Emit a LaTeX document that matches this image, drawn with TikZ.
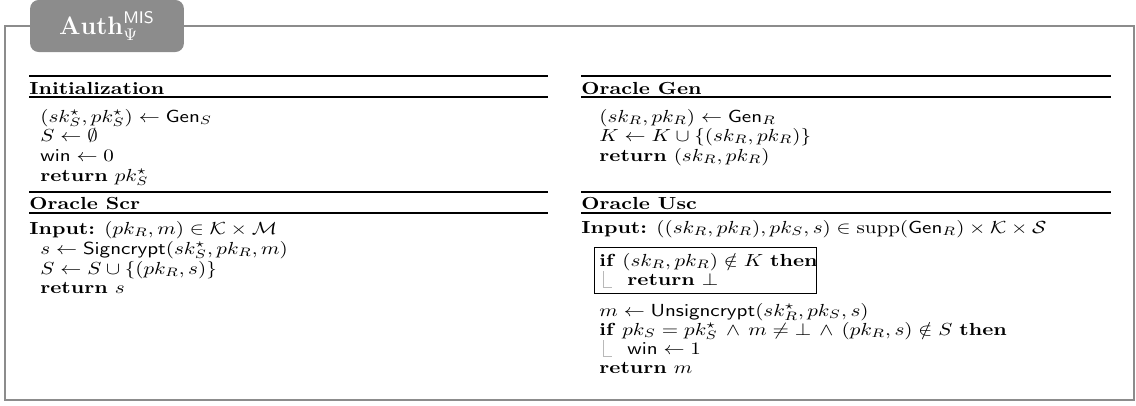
\documentclass[tikz,border=0pt]{standalone}
\usepackage{amsmath,amssymb}
\usepackage{tikz}
\definecolor{framegray}{RGB}{140,140,140}
\definecolor{markgray}{RGB}{185,185,185}
\tikzset{every picture/.style={x=0.475pt,y=-0.475pt}}
\tikzset{code/.style={anchor=base west, inner sep=0pt, yscale=0.83}}
\tikzset{toprule/.style={line width=0.9pt}, midrule/.style={line width=0.5pt}}
\tikzset{tab/.style={fill=framegray, rounded corners=4pt, text=white, minimum width=73pt, minimum height=24.7pt, inner sep=0pt}}

\begin{document}
\begin{tikzpicture}
\useasboundingbox (0,0) rectangle (1136,405);
\draw[framegray, line width=1.4pt] (5,26) rectangle (1134,400);
\node[tab] (tab) at (107,26) {\large $\mathbf{Auth}^{\mathsf{MIS}}_{\Psi}$};
% rules of the four blocks
\foreach \xa/\xb in {29/548, 581/1111} {
\foreach \ya/\yb in {76/97, 192/213} {
\draw[toprule] (\xa,\ya) -- (\xb,\ya);
\draw[midrule] (\xa,\yb) -- (\xb,\yb);
}
}
% Initialization
\node[code] (init) at (29,94) {\textbf{Initialization}};
\node[code] (init1) at (40,122) {$(sk^{\star}_{S}, pk^{\star}_{S}) \leftarrow \mathsf{Gen}_S$};
\node[code] (init2) at (40,141) {$S \leftarrow \emptyset$};
\node[code] (init3) at (40,161) {$\mathsf{win} \leftarrow 0$};
\node[code] (init4) at (40,181) {\textbf{return} $pk^{\star}_{S}$};
% Oracle Gen
\node[code] (gen) at (581,94) {\textbf{Oracle Gen}};
\node[code] (gen1) at (599,122) {$(sk_R, pk_R) \leftarrow \mathsf{Gen}_R$};
\node[code] (gen2) at (599,141) {$K \leftarrow K \cup \{(sk_R, pk_R)\}$};
\node[code] (gen3) at (599,161) {\textbf{return} $(sk_R, pk_R)$};
% Oracle Scr
\node[code] (scr) at (29,209) {\textbf{Oracle Scr}};
\node[code] (scr0) at (29,234) {\textbf{Input:} $(pk_R, m) \in \mathcal{K} \times \mathcal{M}$};
\node[code] (scr1) at (40,254) {$s \leftarrow \mathsf{Signcrypt}(sk^{\star}_{S}, pk_R, m)$};
\node[code] (scr2) at (40,274) {$S \leftarrow S \cup \{(pk_R, s)\}$};
\node[code] (scr3) at (40,293) {\textbf{return} $s$};
% Oracle Usc
\node[code] (usc) at (581,209) {\textbf{Oracle Usc}};
\node[code] (usc0) at (581,233) {\textbf{Input:} $((sk_R, pk_R), pk_S, s) \in \mathrm{supp}(\mathsf{Gen}_R) \times \mathcal{K} \times \mathcal{S}$};
\draw[line width=0.45pt] (594,247) rectangle (816,293);
\node[code] (usc1) at (599,266) {\textbf{if} $(sk_R, pk_R) \notin K$ \textbf{then}};
\node[code] (usc2) at (627,285) {\textbf{return} $\bot$};
\draw[markgray, line width=0.4pt] (603,271) -- (603,287) -- (612,287);
\node[code] (usc3) at (599,316) {$m \leftarrow \mathsf{Unsigncrypt}(sk^{\star}_{R}, pk_S, s)$};
\node[code] (usc4) at (599,335) {\textbf{if} $pk_S = pk^{\star}_{S} \,\wedge\, m \neq \bot \,\wedge\, (pk_R, s) \notin S$ \textbf{then}};
\node[code] (usc5) at (627,354) {$\mathsf{win} \leftarrow 1$};
\draw[markgray, line width=0.4pt] (603,340) -- (603,356) -- (612,356);
\node[code] (usc6) at (599,373) {\textbf{return} $m$};
\end{tikzpicture}
\end{document}
